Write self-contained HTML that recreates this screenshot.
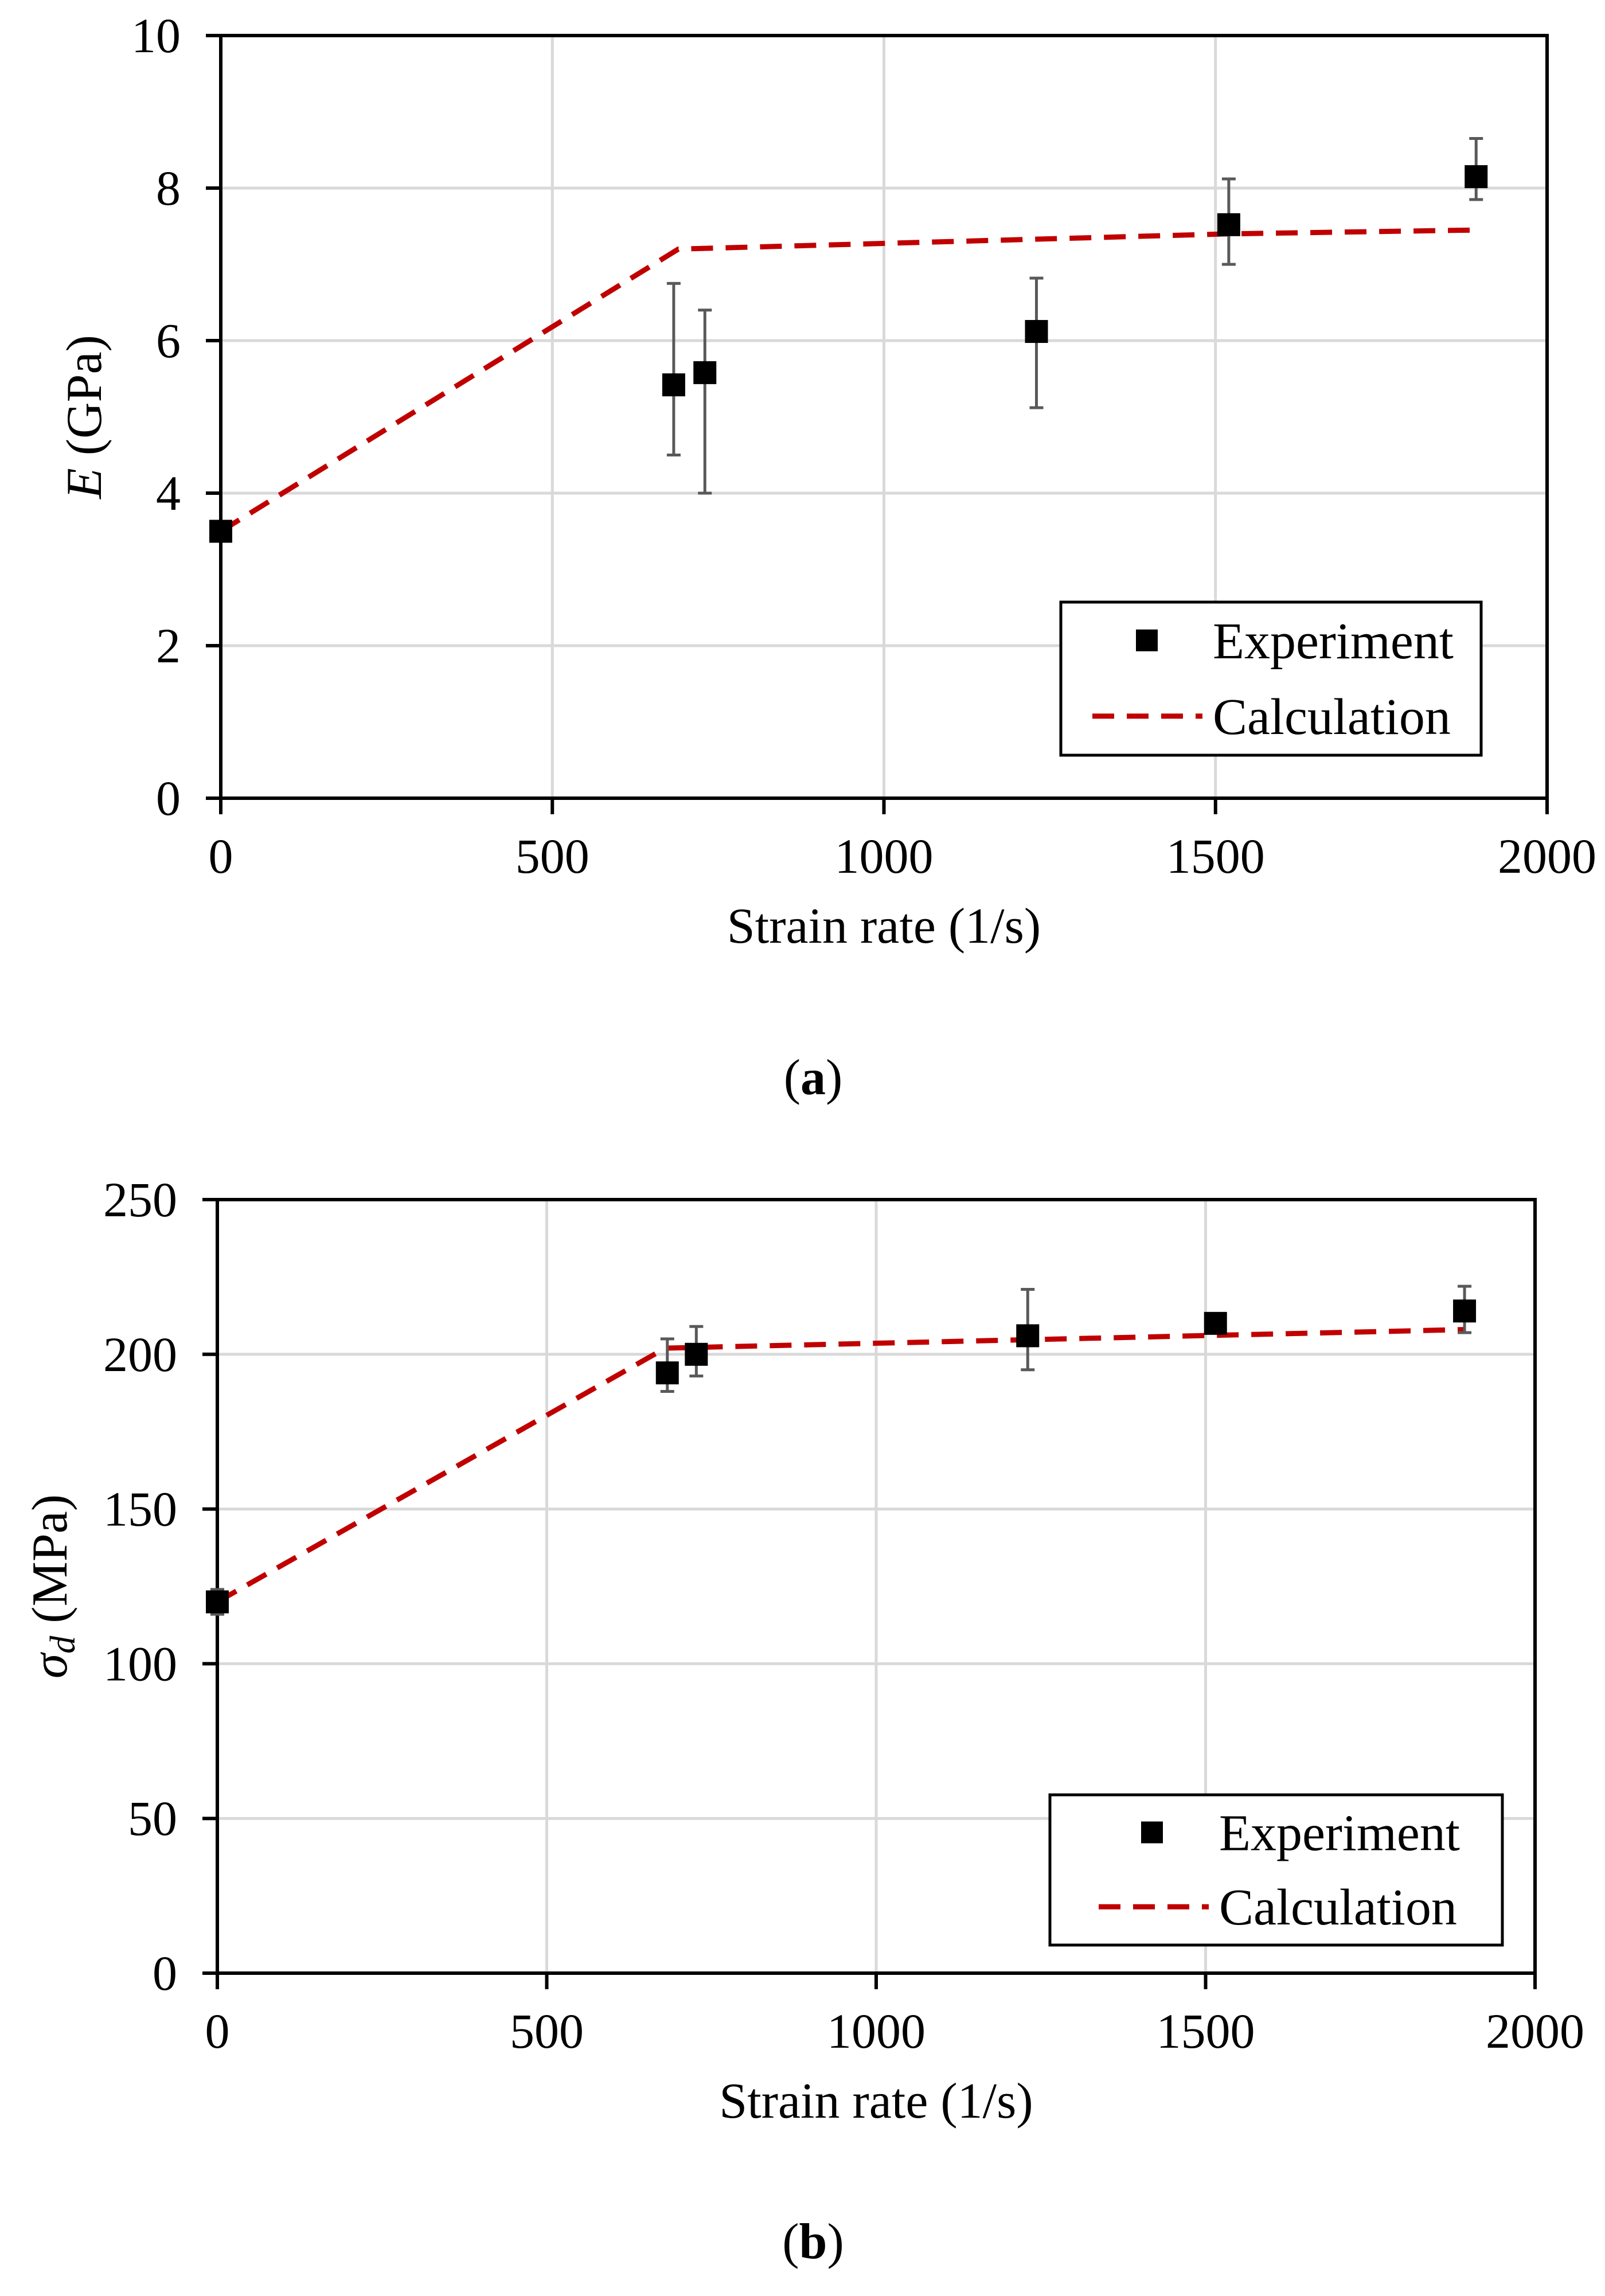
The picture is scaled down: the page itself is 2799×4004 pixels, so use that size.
<!DOCTYPE html>
<html><head><meta charset="utf-8"><style>
html,body{margin:0;padding:0;background:#fff;}
svg{display:block;font-family:"Liberation Serif",serif;}
</style></head><body>
<svg id="fig" width="2799" height="4004" viewBox="0 0 2799 4004" xmlns="http://www.w3.org/2000/svg"></svg>
<script>
// Chart (a) data
const aXTicks = [0, 500, 1000, 1500, 2000];
const aYTicks = [0, 2, 4, 6, 8, 10];
const aExpX = [0, 683, 730, 1230, 1520, 1893];
const aExpY = [3.5, 5.42, 5.58, 6.12, 7.52, 8.15];
const aErrLo = [3.5, 4.5, 4.0, 5.12, 7.0, 7.85];
const aErrHi = [3.5, 6.75, 6.4, 6.82, 8.12, 8.65];
const aCalcX = [0, 690, 1520, 1893];
const aCalcY = [3.5, 7.2, 7.4, 7.45];
// Chart (b) data
const bXTicks = [0, 500, 1000, 1500, 2000];
const bYTicks = [0, 50, 100, 150, 200, 250];
const bExpX = [0, 683, 727, 1230, 1515, 1893];
const bExpY = [120, 194, 200, 206, 210, 214];
const bErrLo = [116, 188, 193, 195, 208, 207];
const bErrHi = [124, 205, 209, 221, 212, 222];
const bCalcX = [0, 680, 1893];
const bCalcY = [120, 202, 208];

const NS = "http://www.w3.org/2000/svg";
const svg = document.getElementById('fig');
function mk(tag, attrs, parent, text){
  const e = document.createElementNS(NS, tag);
  for (const k in attrs) e.setAttribute(k, attrs[k]);
  if (text !== undefined) e.textContent = text;
  (parent || svg).appendChild(e);
  return e;
}

function chart(id, box, xTicks, yTicks, ex, ey, elo, ehi, cx, cy, yTitle, legendBox, caption, yTitleX){
  const g = mk('g', {});
  
  
  const xmin = xTicks[0], xmax = xTicks[xTicks.length-1];
  const ymin = yTicks[0], ymax = yTicks[yTicks.length-1];
  const X = v => box.l + (v - xmin) / (xmax - xmin) * (box.r - box.l);
  const Y = v => box.b - (v - ymin) / (ymax - ymin) * (box.b - box.t);
  xTicks.forEach(t => {
    if (t === xmin) return;
    const l = mk('line', {x1:X(t), x2:X(t), y1:box.t, y2:box.b, stroke:'#d9d9d9', 'stroke-width':5}, g);
    
    
  });
  yTicks.forEach(t => {
    if (t === ymin) return;
    const l = mk('line', {x1:box.l, x2:box.r, y1:Y(t), y2:Y(t), stroke:'#d9d9d9', 'stroke-width':5}, g);
    
    
  });
  const fr = mk('rect', {x:box.l, y:box.t, width:box.r-box.l, height:box.b-box.t, fill:'none', stroke:'#000', 'stroke-width':6}, g);
  
  
  xTicks.forEach(t => {
    const l = mk('line', {x1:X(t), x2:X(t), y1:box.b, y2:box.b+28, stroke:'#000', 'stroke-width':6}, g);
    
    
    const tx = mk('text', {x:X(t), y:box.b+130, 'font-size':86, 'text-anchor':'middle'}, g, String(t));
    
    
  });
  yTicks.forEach(t => {
    const l = mk('line', {x1:box.l-26, x2:box.l, y1:Y(t), y2:Y(t), stroke:'#000', 'stroke-width':6}, g);
    
    
    const tx = mk('text', {x:box.l-70, y:Y(t)+29, 'font-size':86, 'text-anchor':'end'}, g, String(t));
    
    
  });
  const xt = mk('text', {x:(box.l+box.r)/2, y:box.b+252, 'font-size':88, 'text-anchor':'middle'}, g, 'Strain rate (1/s)');
  
  
  const cyMid = (box.t+box.b)/2;
  const yt = mk('text', {x:yTitleX, y:cyMid, 'font-size':88, 'text-anchor':'middle', transform:`rotate(-90 ${yTitleX} ${cyMid})`}, g);
  
  
  yt.innerHTML = yTitle;
  const pts = cx.map((v,i) => X(v)+','+Y(cy[i])).join(' ');
  const pl = mk('polyline', {points:pts, fill:'none', stroke:'#c00000', 'stroke-width':9, 'stroke-dasharray':'38 22'}, g);
  
  
  ex.forEach((v,i) => {
    const x = X(v);
    if (ehi[i] !== elo[i]) {
      const eb = mk('g', {stroke:'#595959', 'stroke-width':5}, g);
      
      
      mk('line', {x1:x, x2:x, y1:Y(ehi[i]), y2:Y(elo[i])}, eb);
      mk('line', {x1:x-12, x2:x+12, y1:Y(ehi[i]), y2:Y(ehi[i])}, eb);
      mk('line', {x1:x-12, x2:x+12, y1:Y(elo[i]), y2:Y(elo[i])}, eb);
    }
    const m = mk('rect', {x:x-20, y:Y(ey[i])-20, width:40, height:40, fill:'#000'}, g);
    
    
  });
  const lg = mk('g', {}, g);
  
  
  const L = legendBox;
  mk('rect', {x:L.l, y:L.t, width:L.r-L.l, height:L.b-L.t, fill:'#fff', stroke:'#000', 'stroke-width':5}, lg);
  const row1 = L.t + (L.b-L.t)*0.25, row2 = L.t + (L.b-L.t)*0.745;
  const e1 = mk('g', {}, lg);
  
  
  mk('rect', {x:L.l+L.mk-19, y:row1-19, width:38, height:38, fill:'#000'}, e1);
  mk('text', {x:L.l+L.tx, y:row1+31, 'font-size':90}, e1, 'Experiment');
  const e2 = mk('g', {}, lg);
  
  
  mk('line', {x1:L.l+L.tx-210, x2:L.l+L.tx-18, y1:row2, y2:row2, stroke:'#c00000', 'stroke-width':9, 'stroke-dasharray':'38 22'}, e2);
  mk('text', {x:L.l+L.tx, y:row2+31, 'font-size':90}, e2, 'Calculation');
  const cp = mk('text', {x:1418, y:caption, 'font-size':88, 'text-anchor':'middle'}, g);
  
  
  cp.innerHTML = '(<tspan font-weight="bold">' + id.slice(-1) + '</tspan>)';
}

chart('chart-a', {l:385, r:2698, t:62, b:1392}, aXTicks, aYTicks, aExpX, aExpY, aErrLo, aErrHi, aCalcX, aCalcY,
  '<tspan font-style="italic">E</tspan> (GPa)', {l:1850, r:2583, t:1050, b:1317, mk:150, tx:265}, 1908, 176);
chart('chart-b', {l:379, r:2677, t:2092, b:3441}, bXTicks, bYTicks, bExpX, bExpY, bErrLo, bErrHi, bCalcX, bCalcY,
  '<tspan font-style="italic">σ</tspan><tspan font-style="italic" font-size="62" dy="14">d</tspan><tspan dy="-14"> (MPa)</tspan>', {l:1831, r:2620, t:3130, b:3392, mk:178, tx:295}, 3938, 116);
</script>
</body></html>
